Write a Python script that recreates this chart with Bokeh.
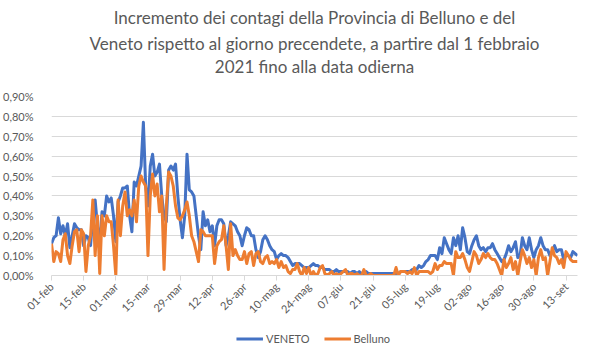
import math
from bokeh.plotting import figure
from bokeh.layouts import column
from bokeh.models import ColumnDataSource, FixedTicker, Legend, LegendItem, Title
from bokeh.embed import file_html
from bokeh.resources import INLINE

title_lines = [
    "Incremento dei contagi della Provincia di Belluno e del",
    "Veneto rispetto al giorno precendete, a partire dal 1 febbraio",
    "2021 fino alla data odierna",
]

# day index 0 = 01-feb-2021 ... 229 = 18-set-2021
tick_days = [0, 14, 28, 42, 56, 70, 84, 98, 112, 126, 140, 154, 168, 182, 196, 210, 224]
tick_labels = ["01-feb", "15-feb", "01-mar", "15-mar", "29-mar", "12-apr", "26-apr",
               "10-mag", "24-mag", "07-giu", "21-giu", "05-lug", "19-lug", "02-ago",
               "16-ago", "30-ago", "13-set"]

y_ticks = [0.0, 0.1, 0.2, 0.3, 0.4, 0.5, 0.6, 0.7, 0.8, 0.9]
y_labels = ["0,00%", "0,10%", "0,20%", "0,30%", "0,40%", "0,50%", "0,60%", "0,70%", "0,80%", "0,90%"]

# values in percent
veneto = [
    0.16, 0.19, 0.20, 0.29, 0.21, 0.25, 0.20, 0.26, 0.14, 0.20,
    0.26, 0.24, 0.23, 0.23, 0.15, 0.20, 0.19, 0.15, 0.30, 0.38,
    0.25, 0.16, 0.32, 0.30, 0.40, 0.37, 0.39, 0.30, 0.17, 0.37,
    0.40, 0.44, 0.44, 0.45, 0.30, 0.22, 0.47, 0.45, 0.50, 0.55,
    0.77, 0.45, 0.35, 0.55, 0.61, 0.50, 0.52, 0.56, 0.40, 0.30,
    0.27, 0.53, 0.55, 0.53, 0.56, 0.40, 0.28, 0.19, 0.30, 0.61,
    0.43, 0.42, 0.40, 0.30, 0.20, 0.13, 0.32, 0.25, 0.28, 0.22,
    0.25, 0.15, 0.25, 0.28, 0.28, 0.26, 0.15, 0.20, 0.27, 0.26,
    0.25, 0.22, 0.20, 0.15, 0.20, 0.24, 0.23, 0.20, 0.20, 0.13,
    0.09, 0.12, 0.18, 0.20, 0.18, 0.15, 0.13, 0.12, 0.08, 0.10,
    0.11, 0.10, 0.10, 0.09, 0.07, 0.05, 0.06, 0.06, 0.06, 0.05,
    0.04, 0.04, 0.04, 0.05, 0.06, 0.05, 0.05, 0.04, 0.04, 0.03,
    0.03, 0.03, 0.02, 0.02, 0.03, 0.02, 0.02, 0.02, 0.02, 0.02,
    0.01, 0.02, 0.02, 0.01, 0.02, 0.01, 0.01, 0.02, 0.01, 0.01,
    0.01, 0.01, 0.01, 0.01, 0.01, 0.01, 0.01, 0.01, 0.01, 0.01,
    0.01, 0.01, 0.02, 0.02, 0.02, 0.02, 0.02, 0.03, 0.03, 0.03,
    0.05, 0.04, 0.05, 0.07, 0.08, 0.10, 0.10, 0.10, 0.08, 0.14,
    0.11, 0.19, 0.16, 0.13, 0.11, 0.19, 0.15, 0.20, 0.13, 0.24,
    0.19, 0.12, 0.11, 0.15, 0.18, 0.20, 0.15, 0.13, 0.14, 0.12,
    0.14, 0.14, 0.16, 0.13, 0.11, 0.09, 0.07, 0.08, 0.11, 0.15,
    0.12, 0.14, 0.17, 0.09, 0.10, 0.19, 0.15, 0.13, 0.19, 0.13,
    0.09, 0.13, 0.15, 0.19, 0.15, 0.13, 0.13, 0.10, 0.12, 0.15,
    0.12, 0.13, 0.13, 0.08, 0.10, 0.10, 0.09, 0.12, 0.11, 0.10,
]

belluno = [
    0.16, 0.07, 0.12, 0.11, 0.07, 0.18, 0.21, 0.10, 0.06, 0.15,
    0.22, 0.23, 0.12, 0.23, 0.21, 0.02, 0.15, 0.20, 0.38, 0.10,
    0.30, 0.01, 0.30, 0.20, 0.30, 0.27, 0.27, 0.15, 0.00, 0.38,
    0.20, 0.35, 0.42, 0.30, 0.33, 0.30, 0.38, 0.27, 0.45, 0.50,
    0.47, 0.45, 0.10, 0.40, 0.51, 0.40, 0.46, 0.32, 0.40, 0.03,
    0.35, 0.52, 0.50, 0.45, 0.35, 0.29, 0.28, 0.30, 0.33, 0.37,
    0.30, 0.20, 0.17, 0.12, 0.07, 0.23, 0.22, 0.20, 0.20, 0.20,
    0.20, 0.06, 0.15, 0.17, 0.18, 0.25, 0.15, 0.03, 0.26, 0.10,
    0.13, 0.10, 0.08, 0.08, 0.12, 0.06, 0.11, 0.12, 0.05, 0.11,
    0.12, 0.07, 0.06, 0.09, 0.10, 0.06, 0.07, 0.06, 0.08, 0.04,
    0.07, 0.04, 0.05, 0.02, 0.01, 0.03, 0.03, 0.06, 0.02, 0.00,
    0.04, 0.01, 0.04, 0.00, 0.02, 0.00, 0.01, 0.04, 0.05, 0.01,
    0.00, 0.01, 0.02, 0.00, 0.01, 0.00, 0.01, 0.02, 0.03, 0.00,
    0.01, 0.01, 0.00, 0.01, 0.00, 0.00, 0.03, 0.00, 0.00, 0.01,
    0.00, 0.00, 0.00, 0.00, 0.00, 0.00, 0.00, 0.00, 0.00, 0.00,
    0.04, 0.00, 0.02, 0.02, 0.02, 0.01, 0.02, 0.01, 0.04, 0.00,
    0.02, 0.02, 0.02, 0.02, 0.02, 0.01, 0.02, 0.06, 0.03, 0.05,
    0.05, 0.07, 0.06, 0.06, 0.06, 0.00, 0.12, 0.09, 0.09, 0.11,
    0.08, 0.04, 0.02, 0.07, 0.12, 0.10, 0.06, 0.08, 0.11, 0.09,
    0.11, 0.09, 0.08, 0.08, 0.06, 0.03, 0.00, 0.08, 0.04, 0.06,
    0.09, 0.03, 0.07, 0.00, 0.07, 0.13, 0.10, 0.06, 0.09, 0.04,
    0.08, 0.00, 0.09, 0.13, 0.08, 0.09, 0.00, 0.07, 0.14, 0.10,
    0.09, 0.06, 0.08, 0.04, 0.12, 0.10, 0.08, 0.07, 0.07, 0.07,
]

days = list(range(len(veneto)))
src = ColumnDataSource(dict(day=days, veneto=veneto, belluno=belluno))

GREY = "#595959"
FONT = "Lato"
TSIZE = "17px"
BLUE = "#4472C4"
ORANGE = "#ED7D31"

p = figure(frame_width=526, frame_height=179, output_backend="svg", toolbar_location=None,
           x_range=(0, len(days) - 1), y_range=(0, 0.9),
           min_border_left=0, min_border_right=7, min_border_top=0, min_border_bottom=0)

# title: p.title is outermost; added Titles stack outward from the frame
title_kw = dict(align="center", text_font=FONT, text_font_size=TSIZE,
                text_font_style="normal", text_color=GREY)
p.title.text = title_lines[0]
for k, v in title_kw.items():
    setattr(p.title, k, v)
p.title.standoff = 8
p.add_layout(Title(text=" ", align="center", text_font=FONT, text_font_size="15px",
                   text_color=GREY, standoff=0), "above")
p.add_layout(Title(text=title_lines[2], standoff=0, **title_kw), "above")
p.add_layout(Title(text=title_lines[1], standoff=-1, **title_kw), "above")

p.outline_line_color = None
p.background_fill_color = "white"
p.border_fill_color = "white"

p.xgrid.grid_line_color = None
p.ygrid.grid_line_color = "#D9D9D9"
p.ygrid.grid_line_width = 1

p.yaxis.ticker = FixedTicker(ticks=y_ticks)
p.yaxis.major_label_overrides = {t: l for t, l in zip(y_ticks, y_labels)}
p.yaxis.axis_line_color = None
p.yaxis.major_tick_line_color = None
p.yaxis.minor_tick_line_color = None
p.yaxis.major_label_text_font = FONT
p.yaxis.major_label_text_font_size = "11px"
p.yaxis.major_label_text_color = GREY
p.yaxis.major_label_standoff = 12

p.xaxis.ticker = FixedTicker(ticks=tick_days)
p.xaxis.major_label_overrides = {t: l for t, l in zip(tick_days, tick_labels)}
p.xaxis.axis_line_color = "#D9D9D9"
p.xaxis.major_tick_line_color = "#D9D9D9"
p.xaxis.major_tick_in = 0
p.xaxis.major_tick_out = 5
p.xaxis.minor_tick_line_color = None
p.xaxis.major_label_orientation = math.pi / 4
p.xaxis.major_label_text_font = FONT
p.xaxis.major_label_text_font_size = "11px"
p.xaxis.major_label_text_color = GREY
p.xaxis.major_label_standoff = 4

p.line("day", "veneto", source=src, line_color=BLUE, line_width=3, line_join="round")
p.line("day", "belluno", source=src, line_color=ORANGE, line_width=3, line_join="round")

# legend strip below the chart: same series, drawn outside its visible range
lg = figure(width=582, height=32, output_backend="svg", toolbar_location=None,
            x_range=(0, len(days) - 1), y_range=(5, 6),
            x_axis_type=None, y_axis_type=None,
            min_border_left=0, min_border_right=0, min_border_top=0, min_border_bottom=0)
lg.xgrid.grid_line_color = None
lg.ygrid.grid_line_color = None
lg.outline_line_color = None
lg.background_fill_color = "white"
lg.border_fill_color = "white"
l1 = lg.line("day", "veneto", source=src, line_color=BLUE, line_width=3)
l2 = lg.line("day", "belluno", source=src, line_color=ORANGE, line_width=3)

legend = Legend(items=[LegendItem(label="VENETO", renderers=[l1]),
                       LegendItem(label="Belluno", renderers=[l2])],
                orientation="horizontal", location="center",
                label_text_font=FONT, label_text_font_size="11px", label_text_color=GREY,
                glyph_width=27, glyph_height=12, label_standoff=3, spacing=14,
                border_line_color=None, background_fill_alpha=0,
                margin=0, padding=2)
lg.add_layout(legend)

layout = column(p, lg, spacing=0)
open("out.html", "w").write(file_html(layout, INLINE))
